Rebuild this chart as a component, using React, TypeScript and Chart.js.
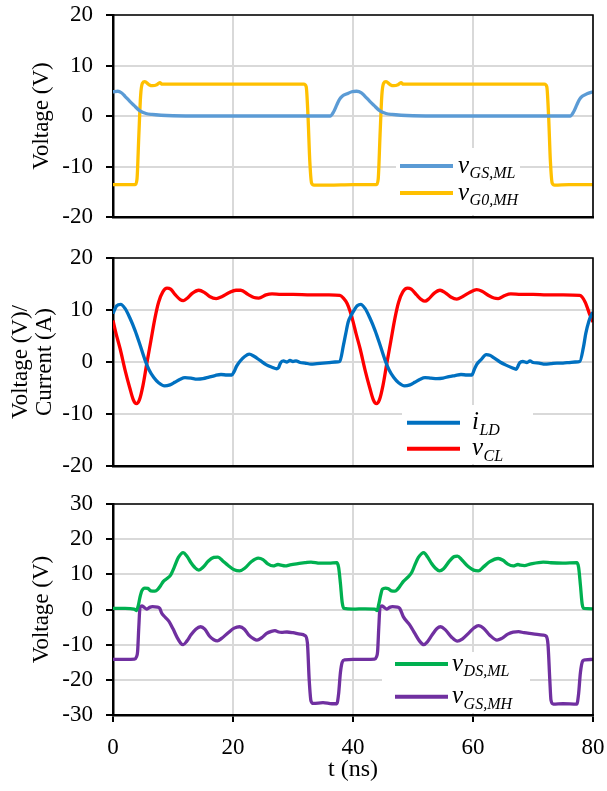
import React, { useEffect, useRef } from 'react';
import { Chart, registerables } from 'chart.js';
Chart.register(...registerables);

const FONT = '"Liberation Serif", "Times New Roman", serif';

// ---------- Panel 1 ----------
const tGsMl = [0, 0.8, 1.4, 2.0, 2.8, 3.5, 4.5, 5.5, 6.5, 8, 10, 15, 25, 36.2, 36.8, 37.3, 37.7, 38.2, 39, 39.8, 40.6, 41.4, 42.0, 42.8, 43.5, 44.5, 45.5, 46.5, 48, 50, 55, 65, 76.2, 76.8, 77.3, 77.7, 78.2, 79, 80];
const vGsMl = [4.8, 4.9, 4.6, 3.9, 2.9, 2.1, 1.0, 0.5, 0.3, 0.15, 0.05, 0, 0, 0, 0.9, 2.2, 3.2, 3.9, 4.4, 4.8, 4.9, 4.6, 3.9, 2.9, 2.1, 1.0, 0.5, 0.3, 0.15, 0.05, 0, 0, 0, 0.9, 2.2, 3.2, 3.9, 4.4, 4.8];

const tG0Mh = [0, 3.7, 4.0, 4.3, 4.6, 4.9, 5.3, 6.0, 6.6, 7.3, 7.8, 8.2, 15, 25, 31.8, 32.2, 32.5, 32.8, 33.1, 33.5, 36, 40, 43.9, 44.2, 44.5, 44.8, 45.1, 45.5, 46.2, 46.8, 47.5, 48.0, 48.4, 55, 65, 71.9, 72.3, 72.6, 72.9, 73.2, 73.6, 76, 80];
const vG0Mh = [-13.6, -13.6, -12.5, -4, 4.0, 6.5, 6.8, 6.2, 6.0, 6.2, 6.6, 6.3, 6.3, 6.3, 6.3, 5.8, 0, -9, -13.3, -13.7, -13.7, -13.6, -13.6, -12.5, -4, 4.0, 6.5, 6.8, 6.2, 6.0, 6.2, 6.6, 6.3, 6.3, 6.3, 6.3, 5.8, 0, -9, -13.3, -13.7, -13.6, -13.6];

// ---------- Panel 2 ----------
const tLd = [0, 0.6, 1.3, 2.0, 2.8, 3.7, 4.5, 5.3, 6.0, 6.8, 7.6, 8.6, 9.5, 10.3, 11.2, 12.0, 13.0, 14.0, 15.0, 16.0, 17.0, 18.0, 19.0, 19.8, 20.2, 20.6, 21.2, 22.0, 22.7, 23.5, 24.5, 25.5, 26.5, 27.3, 27.6, 27.9, 28.4, 29, 29.5, 30, 30.5, 31.2, 32, 33, 34, 35, 36, 37, 37.8, 38.4, 38.8, 39.2, 39.7, 40.2, 40.7, 41.3, 42.0, 42.8, 43.7, 44.5, 45.3, 46.0, 46.8, 47.6, 48.6, 49.5, 50.3, 51.2, 52, 53, 54, 55, 56, 57, 58, 59, 59.8, 60.2, 60.6, 61.3, 62.2, 62.8, 63.5, 64.5, 65.5, 66.5, 67.2, 67.5, 67.8, 68.3, 69, 69.5, 70, 71, 72, 73, 74, 75, 76, 77, 77.8, 78.4, 78.8, 79.3, 79.7, 80];
const vLd = [9.3, 10.8, 11.1, 10.3, 8.5, 6.0, 3.3, 0.5, -1.5, -3.0, -4.0, -4.6, -4.4, -3.9, -3.3, -3.0, -3.1, -3.3, -3.2, -2.9, -2.6, -2.4, -2.5, -2.5, -1.8, -0.8, 0.2, 1.1, 1.5, 1.1, 0.3, -0.5, -1.0, -1.3, -1.1, -0.2, 0.2, 0, 0.3, 0.1, 0.2, -0.1, -0.2, -0.4, -0.3, -0.2, -0.1, 0, 0.1, 3.2, 5.5, 7.7, 9.0, 10.0, 10.8, 11.1, 10.3, 8.5, 6.0, 3.3, 0.5, -1.5, -3.0, -4.0, -4.6, -4.4, -3.9, -3.3, -3.0, -3.1, -3.2, -3.1, -2.8, -2.6, -2.4, -2.5, -2.5, -1.5, -0.5, 0.4, 1.4, 1.3, 0.8, 0.0, -0.6, -1.1, -1.4, -0.8, -0.1, 0.1, -0.1, 0.2, -0.1, -0.2, -0.4, -0.3, -0.2, -0.2, -0.1, 0, 0.1, 2.8, 5.5, 7.8, 9.0, 9.6];

const tCl = [0, 0.5, 1.2, 2.0, 2.8, 3.4, 3.9, 4.4, 5.0, 5.6, 6.3, 7.0, 7.6, 8.3, 9.0, 9.6, 10.4, 11.2, 11.7, 12.3, 13.2, 14.3, 15.2, 16.1, 17.2, 18.2, 19.3, 20.5, 21.3, 22.5, 23.5, 24.3, 25.5, 26.5, 28, 30, 33, 36, 37.8, 38.4, 39.0, 39.5, 40.0, 40.5, 41.2, 42.0, 42.8, 43.4, 43.9, 44.4, 45.0, 45.6, 46.3, 47.0, 47.6, 48.3, 49.1, 49.7, 50.6, 51.4, 52.0, 52.6, 53.5, 54.5, 55.4, 56.3, 57.3, 58.3, 59.5, 60.6, 61.5, 62.6, 63.5, 64.2, 65.3, 66.3, 68, 70, 72.3, 75, 77.8, 78.7, 79.5, 80];
const vCl = [8.0, 5.5, 2.5, -1.5, -5, -7.3, -8.0, -7.3, -4.5, -0.5, 4, 8.5, 11.5, 13.5, 14.2, 14.0, 12.9, 12.0, 11.8, 12.2, 13.2, 13.8, 13.4, 12.6, 12.2, 12.6, 13.3, 13.8, 13.8, 13.0, 12.4, 12.3, 12.9, 13.1, 13.0, 13.0, 12.9, 12.9, 12.8, 12.3, 11.3, 9.8, 7.8, 5.5, 2.5, -1.5, -5, -7.3, -8.0, -7.3, -4.5, -0.5, 4, 8.5, 11.5, 13.5, 14.2, 14.0, 12.9, 12.0, 11.7, 12.1, 13.2, 13.8, 13.3, 12.5, 12.1, 12.6, 13.4, 13.9, 13.6, 12.8, 12.3, 12.2, 12.8, 13.1, 13.0, 13.0, 12.9, 12.9, 12.8, 11.5, 9.0, 7.7];

// ---------- Panel 3 ----------
const tDsMl = [0, 2, 3.5, 3.9, 4.2, 4.5, 4.8, 5.3, 5.8, 6.3, 7.0, 7.5, 7.9, 8.4, 9.0, 9.6, 10.2, 10.9, 11.7, 12.3, 13.0, 13.6, 14.3, 15.0, 15.9, 16.8, 17.5, 18.3, 19.2, 20.2, 21.1, 22.0, 23.0, 24.2, 25.0, 25.8, 26.7, 27.5, 28.0, 28.7, 29.5, 30.6, 32, 33, 34.5, 36, 37.3, 37.6, 37.9, 38.2, 38.5, 40, 42, 43.6, 44.0, 44.3, 44.6, 44.9, 45.4, 45.9, 46.4, 47.0, 47.5, 47.9, 48.4, 49.2, 49.8, 50.3, 50.9, 51.8, 52.4, 53.1, 53.7, 54.4, 55.1, 56.0, 56.8, 57.4, 58.2, 59.2, 60.1, 60.9, 61.8, 62.8, 64.2, 65.0, 65.8, 66.7, 67.5, 67.9, 68.6, 69.5, 71.7, 73, 75, 77.3, 77.6, 77.9, 78.2, 78.5, 80];
const vDsMl = [0.3, 0.3, 0.1, -0.3, 1.0, 3.5, 5.3, 6.1, 6.0, 5.3, 5.2, 5.8, 6.7, 8.0, 8.8, 9.8, 12.0, 14.8, 16.2, 15.2, 13.3, 12.0, 11.2, 12.0, 13.8, 14.8, 14.9, 13.8, 12.5, 11.3, 11.0, 11.8, 13.5, 14.6, 14.2, 13.0, 12.4, 12.8, 12.6, 12.4, 12.7, 13.0, 13.3, 13.5, 13.2, 13.2, 13.3, 12.0, 7.5, 2.0, 0.3, 0.1, 0.2, 0.1, -0.3, 1.5, 4.0, 5.8, 6.1, 5.9, 5.3, 5.2, 5.9, 6.8, 8.0, 9.3, 10.6, 12.6, 14.8, 16.2, 15.0, 13.1, 11.8, 11.0, 11.6, 13.6, 15.0, 15.2, 14.0, 12.2, 11.2, 11.0, 12.2, 13.6, 14.5, 14.0, 12.9, 12.4, 12.8, 12.6, 12.5, 12.9, 13.5, 13.3, 13.2, 13.3, 12.0, 7.0, 1.5, 0.3, 0.2];

const tGsMh = [0, 3.6, 3.9, 4.1, 4.3, 4.5, 4.8, 5.2, 5.6, 6.1, 6.6, 7.4, 7.8, 8.1, 8.7, 9.3, 10.0, 10.7, 11.3, 11.7, 12.3, 13.0, 13.8, 14.6, 15.3, 16.1, 16.8, 17.4, 18.1, 19.2, 20.2, 21.1, 21.9, 22.6, 23.5, 24.0, 24.8, 25.6, 26.4, 27.0, 27.6, 28.1, 29, 30, 31.2, 32.0, 32.4, 32.7, 33.0, 33.4, 35, 36.5, 37.3, 37.6, 37.9, 38.2, 38.6, 40, 43.6, 43.9, 44.1, 44.3, 44.5, 44.8, 45.2, 45.6, 46.1, 46.6, 47.4, 47.8, 48.4, 49.5, 50.3, 51.1, 51.8, 52.4, 53.2, 54.0, 54.6, 55.4, 56.4, 57.4, 58.2, 59.4, 60.2, 60.9, 61.8, 62.8, 64.0, 64.8, 65.8, 66.7, 67.6, 68.5, 70, 71.7, 72.2, 72.5, 72.8, 73.0, 73.4, 75, 77.3, 77.6, 77.9, 78.3, 78.7, 80];
const vGsMh = [-14.2, -14.1, -13.5, -12.0, -5, 0.5, 1.0, 0.6, 0.1, 0.6, 0.8, 0.7, 0.3, -1.0, -2.2, -3.3, -5.5, -8.0, -9.6, -10.0, -9.0, -7.2, -5.6, -4.9, -5.6, -7.6, -8.6, -8.9, -8.2, -6.6, -5.3, -4.9, -5.6, -7.2, -8.4, -8.7, -8.0, -6.8, -6.2, -6.0, -6.4, -6.5, -6.4, -6.6, -7.0, -7.4, -9.5, -20, -26.0, -26.7, -26.5, -26.8, -26.8, -24, -18, -15.0, -14.3, -14.2, -14.1, -13.5, -12.0, -5, 0.5, 1.0, 0.6, 0.1, 0.6, 0.8, 0.7, 0.3, -2.1, -4.5, -6.8, -9.0, -10.0, -9.2, -7.2, -5.4, -4.9, -5.8, -7.8, -9.0, -8.4, -6.5, -5.2, -4.6, -5.4, -7.3, -8.7, -8.2, -7.0, -6.4, -6.3, -6.6, -6.9, -7.3, -7.6, -10, -20, -25.8, -26.9, -26.8, -26.9, -24, -18, -14.6, -14.3, -14.2];

const C_GSML = '#5B9BD5';
const C_G0MH = '#FFC000';
const C_LD = '#0070C0';
const C_CL = '#FF0000';
const C_DSML = '#00B050';
const C_GSMH = '#7030A0';

type Entry = { color: string; main: string; sub: string };
type LegendLayout = { boxX: number; boxW: number; boxTop: number; rows: number[]; sx0: number; sx1: number; tx: number };

function pts(t: number[], v: number[]) {
  return t.map((x, i) => ({ x, y: v[i] }));
}

function ds(label: string, t: number[], v: number[], color: string) {
  return {
    label,
    data: pts(t, v),
    borderColor: color,
    backgroundColor: color,
    borderWidth: 3.3,
    pointRadius: 0,
    cubicInterpolationMode: 'monotone' as const,
    fill: false,
  };
}

type PanelProps = {
  top: number;
  height: number;
  padTop: number;
  xHeight: number;
  yMin: number;
  yMax: number;
  yStep: number;
  yTitle: string | string[];
  titlePad: number;
  showX: boolean;
  datasets: any[];
  entries: Entry[];
  legend: LegendLayout;
};

function Panel(p: PanelProps) {
  const ref = useRef<HTMLCanvasElement>(null);
  useEffect(() => {
    const legendPlugin = {
      id: 'subLegend' + p.top,
      beforeDatasetsDraw(chart: any) {
        const { ctx, chartArea: a } = chart;
        const L = p.legend;
        ctx.save();
        ctx.fillStyle = '#ffffff';
        ctx.fillRect(a.left + L.boxX, a.bottom - L.boxTop, L.boxW, L.boxTop - 2);
        p.entries.forEach((e, i) => {
          const y = a.bottom - L.rows[i];
          ctx.strokeStyle = e.color;
          ctx.lineWidth = 4;
          ctx.lineCap = 'butt';
          ctx.beginPath();
          ctx.moveTo(a.left + L.sx0, y);
          ctx.lineTo(a.left + L.sx1, y);
          ctx.stroke();
          ctx.fillStyle = '#000';
          ctx.textBaseline = 'alphabetic';
          ctx.textAlign = 'left';
          ctx.font = 'italic 25px ' + FONT;
          const x0 = a.left + L.tx;
          ctx.fillText(e.main, x0, y + 6.5);
          const w = ctx.measureText(e.main).width;
          ctx.font = 'italic 16px ' + FONT;
          ctx.fillText(e.sub, x0 + w + 0.5, y + 12);
        });
        ctx.restore();
      },
      afterDraw(chart: any) {
        const { ctx, chartArea: a } = chart;
        ctx.save();
        ctx.strokeStyle = '#000';
        ctx.lineWidth = 1.6;
        ctx.beginPath();
        ctx.moveTo(a.left, a.top);
        ctx.lineTo(a.right, a.top);
        ctx.lineTo(a.right, a.bottom);
        ctx.stroke();
        ctx.restore();
      },
    };
    const chart = new Chart(ref.current as HTMLCanvasElement, {
      type: 'line',
      data: { datasets: p.datasets },
      plugins: [legendPlugin],
      options: {
        animation: false,
        responsive: false,
        events: [],
        layout: { padding: { left: 0, right: 14, top: p.padTop, bottom: 0 } },
        plugins: { legend: { display: false }, tooltip: { enabled: false } },
        scales: {
          x: {
            type: 'linear',
            min: 0,
            max: 80,
            ticks: { stepSize: 20, display: p.showX, font: { family: FONT, size: 23 }, color: '#000', padding: 12, maxRotation: 0 },
            grid: { color: '#D9D9D9', lineWidth: 2, drawTicks: p.showX, tickLength: 7, tickColor: '#000', tickWidth: 2 },
            border: { color: '#000', width: 2.5 },
            title: { display: p.showX, text: 't (ns)', font: { family: FONT, size: 24, lineHeight: 1.2 }, color: '#000', padding: { top: 0, bottom: 7 } },
            afterFit: (s: any) => {
              s.height = p.xHeight;
              s.paddingLeft = 0;
              s.paddingRight = 0;
              s.paddingTop = 0;
              s.paddingBottom = 0;
            },
          },
          y: {
            type: 'linear',
            min: p.yMin,
            max: p.yMax,
            ticks: { stepSize: p.yStep, font: { family: FONT, size: 23 }, color: '#000', padding: 13 },
            grid: { color: '#D9D9D9', lineWidth: 2, tickLength: 7, tickColor: '#000', tickWidth: 2 },
            border: { color: '#000', width: 2.5 },
            title: { display: true, text: p.yTitle, font: { family: FONT, size: 23, lineHeight: 1.05 }, color: '#000', padding: { top: p.titlePad, bottom: 0 } },
            afterFit: (s: any) => {
              s.width = 113;
              s.paddingLeft = 0;
              s.paddingRight = 0;
              s.paddingTop = 0;
              s.paddingBottom = 0;
            },
          },
        },
      } as any,
    });
    return () => chart.destroy();
  }, []);
  return (
    <canvas
      ref={ref}
      width={607}
      height={p.height}
      style={{ position: 'absolute', left: 0, top: p.top, width: 607, height: p.height }}
    />
  );
}

export default function App() {
  return (
    <div style={{ position: 'absolute', left: 0, top: 0, width: 607, height: 791, background: '#fff' }}>
      <Panel
        top={0}
        height={240}
        padTop={15}
        xHeight={23}
        yMin={-20}
        yMax={20}
        yStep={10}
        yTitle="Voltage (V)"
        titlePad={30}
        showX={false}
        datasets={[ds('vGS,ML', tGsMl, vGsMl, C_GSML), ds('vG0,MH', tG0Mh, vG0Mh, C_G0MH)]}
        entries={[
          { color: C_GSML, main: 'v', sub: 'GS,ML' },
          { color: C_G0MH, main: 'v', sub: 'G0,MH' },
        ]}
        legend={{ boxX: 283, boxW: 124, boxTop: 69, rows: [51, 24], sx0: 287, sx1: 340, tx: 345 }}
      />
      <Panel
        top={240}
        height={250}
        padTop={18}
        xHeight={24}
        yMin={-20}
        yMax={20}
        yStep={10}
        yTitle={['Voltage (V)/', 'Current (A)']}
        titlePad={9}
        showX={false}
        datasets={[ds('iLD', tLd, vLd, C_LD), ds('vCL', tCl, vCl, C_CL)]}
        entries={[
          { color: C_LD, main: 'i', sub: 'LD' },
          { color: C_CL, main: 'v', sub: 'CL' },
        ]}
        legend={{ boxX: 289, boxW: 131, boxTop: 61, rows: [43.3, 17.3], sx0: 294, sx1: 347, tx: 359 }}
      />
      <Panel
        top={490}
        height={301}
        padTop={14}
        xHeight={76}
        yMin={-30}
        yMax={30}
        yStep={10}
        yTitle="Voltage (V)"
        titlePad={30}
        showX={true}
        datasets={[ds('vDS,ML', tDsMl, vDsMl, C_DSML), ds('vGS,MH', tGsMh, vGsMh, C_GSMH)]}
        entries={[
          { color: C_DSML, main: 'v', sub: 'DS,ML' },
          { color: C_GSMH, main: 'v', sub: 'GS,MH' },
        ]}
        legend={{ boxX: 269, boxW: 148, boxTop: 63, rows: [51, 18.3], sx0: 282, sx1: 335, tx: 339 }}
      />
    </div>
  );
}
